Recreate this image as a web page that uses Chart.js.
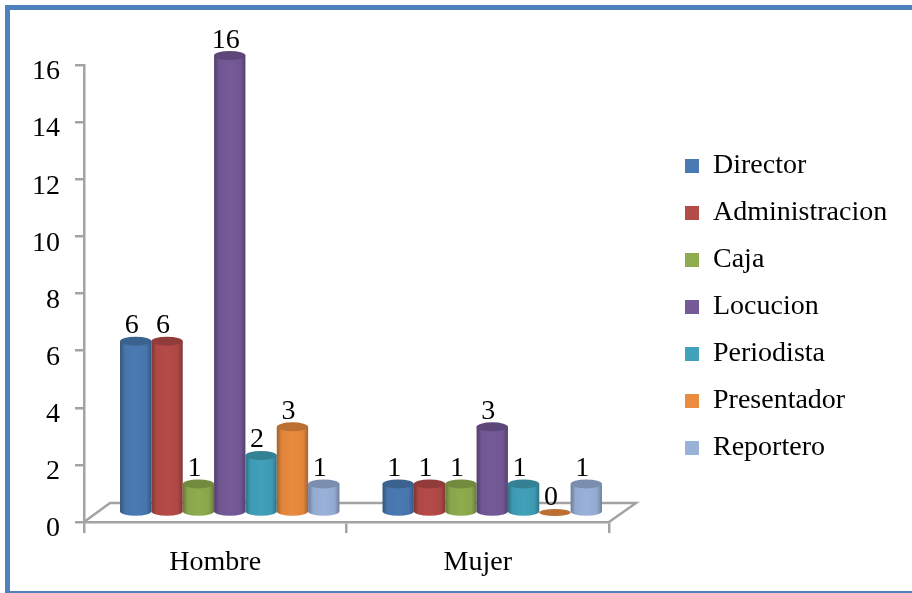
<!DOCTYPE html>
<html>
<head>
<meta charset="utf-8">
<script src="https://cdn.jsdelivr.net/npm/chart.js@4"></script>
<style>
  html, body { margin: 0; padding: 0; background: #fff; overflow: hidden; }
  #wrap { position: relative; width: 912px; height: 593px; overflow: hidden; }
  #chart { position: absolute; left: 0; top: 0; }
  #frame {
    position: absolute; left: 5px; top: 5px; width: 912px; height: 581px;
    border: 5px solid #4f81bd; box-sizing: content-box; pointer-events: none;
  }
</style>
</head>
<body>
<div id="wrap">
  <canvas id="chart" width="912" height="593"></canvas>
  <div id="frame"></div>
</div>
<script>
const categories = ["Hombre", "Mujer"];
const director = [6, 1];
const administracion = [6, 1];
const caja = [1, 1];
const locucion = [16, 3];
const periodista = [2, 1];
const presentador = [3, 0];
const reportero = [1, 1];
const yTicks = [0, 2, 4, 6, 8, 10, 12, 14, 16];

const FONT = "'Liberation Serif', serif";
const GREY = "#a3a3a3";
// 3d look: columns stand in the middle of the floor, not on the front edge
const DX = 14.5;
const DY = -9.5;
const RY = 4.5;

function shade(hex, f) {
  const n = parseInt(hex.slice(1), 16);
  const c = [n >> 16, (n >> 8) & 255, n & 255].map((v) => Math.round(v * f));
  return "rgb(" + c.join(",") + ")";
}

function ellipse(ctx, x, y, rx, ry) {
  ctx.beginPath();
  ctx.ellipse(x, y, rx, ry, 0, 0, Math.PI * 2);
  ctx.fill();
}

function drawColumn(ctx, bar, color) {
  const x = bar.x + DX;
  const top = bar.y + DY;
  const base = bar.base + DY;
  const rx = bar.width / 2;

  if (top < base - 0.5) {
    const g = ctx.createLinearGradient(x - rx, 0, x + rx, 0);
    g.addColorStop(0, shade(color, 0.7));
    g.addColorStop(0.16, shade(color, 0.96));
    g.addColorStop(0.5, color);
    g.addColorStop(0.84, shade(color, 0.96));
    g.addColorStop(1, shade(color, 0.72));
    ctx.fillStyle = g;
    ctx.beginPath();
    ctx.moveTo(x - rx, top);
    ctx.lineTo(x - rx, base);
    ctx.ellipse(x, base, rx, RY, 0, Math.PI, 0, true);
    ctx.lineTo(x + rx, top);
    ctx.closePath();
    ctx.fill();
  }
  ctx.fillStyle = shade(color, 0.8);
  ellipse(ctx, x, top, rx, top < base - 0.5 ? RY : RY - 1);
}

const columnsPlugin = {
  id: "columns",
  afterLayout(chart) {
    // legend sits on its own, away from the plot
    chart.legend.left = 666;
    chart.legend.right = 912;
    chart.legend.top = 133;
    chart.legend.width = 246;
  },
  beforeDatasetsDraw(chart) {
    const { ctx, scales } = chart;
    const xs = scales.x;
    const y0 = scales.y.getPixelForValue(0);
    const left = xs.left;
    const right = xs.right;

    // floor of the 3d plot
    ctx.save();
    ctx.strokeStyle = GREY;
    ctx.lineWidth = 2.5;
    ctx.beginPath();
    ctx.moveTo(left, y0);
    ctx.lineTo(left + 26, y0 - 19);
    ctx.lineTo(right + 27, y0 - 19);
    ctx.lineTo(right, y0);
    ctx.stroke();

    chart.data.datasets.forEach((ds, i) => {
      chart.getDatasetMeta(i).data.forEach((bar) => {
        drawColumn(ctx, bar, ds.backgroundColor);
      });
    });

    // value labels sit a little left of the column
    ctx.fillStyle = "#000";
    ctx.font = "28px " + FONT;
    ctx.textAlign = "center";
    ctx.textBaseline = "alphabetic";
    chart.data.datasets.forEach((ds, i) => {
      chart.getDatasetMeta(i).data.forEach((bar, j) => {
        ctx.fillText(ds.data[j], bar.x + DX - 4, bar.y + DY - 8);
      });
    });
    ctx.restore();
  },
  beforeDatasetDraw() {
    return false;
  },
};

const seriesNames = [
  ["Director", director, "#4a7ab3"],
  ["Administracion", administracion, "#b54b48"],
  ["Caja", caja, "#8fac4e"],
  ["Locucion", locucion, "#755a98"],
  ["Periodista", periodista, "#41a0ba"],
  ["Presentador", presentador, "#ea8b3e"],
  ["Reportero", reportero, "#9ab1d9"],
];

new Chart(document.getElementById("chart"), {
  type: "bar",
  data: {
    labels: categories,
    datasets: seriesNames.map((s) => ({
      label: s[0],
      data: s[1],
      backgroundColor: s[2],
      categoryPercentage: 0.836,
      barPercentage: 1,
    })),
  },
  plugins: [columnsPlugin],
  options: {
    responsive: false,
    animation: false,
    layout: { padding: { left: 0, right: 100, top: 65, bottom: 0 } },
    scales: {
      x: {
        afterFit(scale) { scale.height = 71; },
        grid: { drawOnChartArea: false, color: GREY, tickLength: 11, lineWidth: 2.5 },
        border: { color: GREY, width: 2.5 },
        ticks: { color: "#000", font: { family: FONT, size: 28 }, padding: 13, maxRotation: 0 },
      },
      y: {
        min: 0,
        max: 16,
        afterFit(scale) { scale.width = 84; },
        afterBuildTicks(scale) { scale.ticks = yTicks.map((v) => ({ value: v })); },
        grid: { drawOnChartArea: false, color: GREY, tickLength: 9, lineWidth: 2.5 },
        border: { color: GREY, width: 2.5 },
        ticks: { color: "#000", font: { family: FONT, size: 28 }, padding: 15, labelOffset: 7 },
      },
    },
    plugins: {
      tooltip: { enabled: false },
      legend: {
        position: "right",
        align: "start",
        labels: {
          color: "#000",
          font: { family: FONT, size: 28 },
          boxWidth: 14,
          boxHeight: 14,
          padding: 19,
        },
      },
    },
  },
});
</script>
</body>
</html>
